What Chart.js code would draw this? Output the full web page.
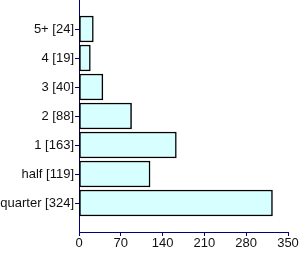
<!DOCTYPE html>
<html>
<head>
<meta charset="utf-8">
<script src="https://cdn.jsdelivr.net/npm/chart.js@4"></script>
<style>
html,body{margin:0;padding:0;background:#fff;}
#wrap{width:300px;height:254px;}
</style>
</head>
<body>
<div id="wrap"><canvas id="c" width="300" height="254"></canvas></div>
<script>
const categories = ["quarter [324]", "half [119]", "1 [163]", "2 [88]", "3 [40]", "4 [19]", "5+ [24]"];
const values = [324, 119, 163, 88, 40, 19, 24];
const xTicks = [0, 70, 140, 210, 280, 350];

const navy = "#000080";
const font = {family: "'Liberation Sans', Arial, sans-serif", size: 13};

new Chart(document.getElementById("c"), {
  type: "bar",
  data: {
    datasets: [{
      data: values.map((v, i) => ({x: v, y: i})),
      backgroundColor: "#d8ffff",
      borderColor: "#000",
      borderWidth: 1.5,
      borderSkipped: false,
      barThickness: 26
    }]
  },
  options: {
    indexAxis: "y",
    responsive: false,
    animation: false,
    events: [],
    layout: {padding: {top: 0, right: 12, bottom: 0, left: 0}},
    plugins: {legend: {display: false}, tooltip: {enabled: false}},
    scales: {
      x: {
        type: "linear",
        min: 0, max: 350,
        offset: false,
        afterBuildTicks: s => { s.ticks = xTicks.map(v => ({value: v})); },
        afterFit: s => { s.height = 22; s.paddingLeft = 0; s.paddingRight = 0; },
        border: {color: navy, width: 1},
        grid: {display: true, offset: false, drawOnChartArea: false, drawTicks: true, tickLength: 4, color: navy},
        ticks: {color: "#111", font: font, padding: 0, maxRotation: 0}
      },
      y: {
        type: "linear",
        min: -1, max: 7,
        offset: false,
        afterBuildTicks: s => { s.ticks = categories.map((c, i) => ({value: i})); },
        afterFit: s => { s.width = 79; s.paddingTop = 0; s.paddingBottom = 0; },
        border: {color: navy, width: 1},
        grid: {display: true, offset: false, drawOnChartArea: false, drawTicks: true, tickLength: 4, color: navy},
        ticks: {color: "#111", font: font, padding: 1, callback: v => categories[v]}
      }
    }
  }
});
</script>
</body>
</html>
